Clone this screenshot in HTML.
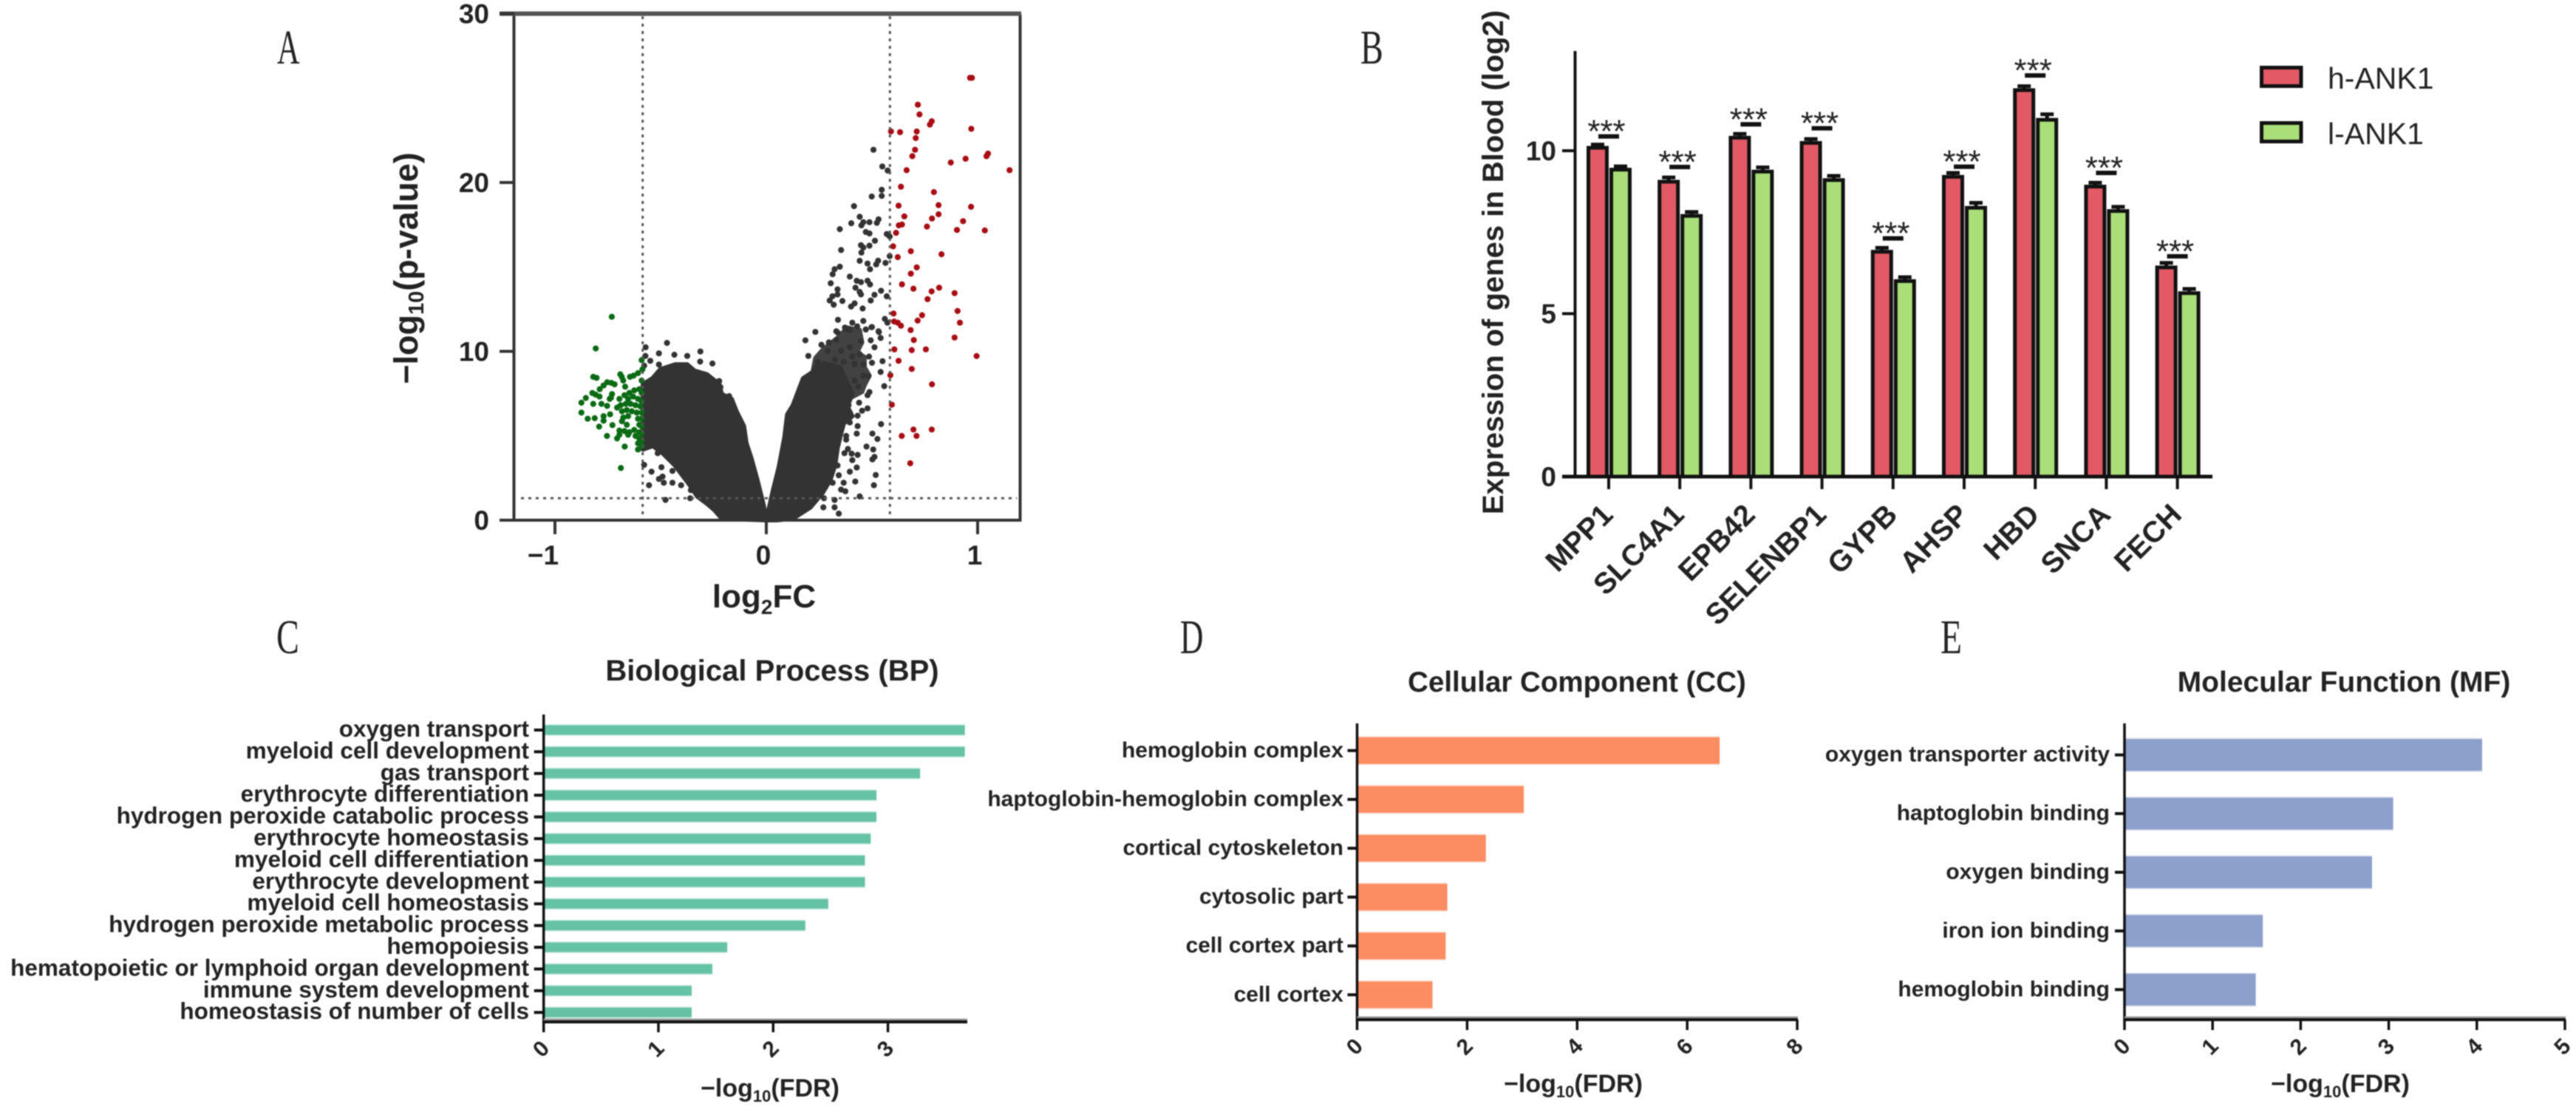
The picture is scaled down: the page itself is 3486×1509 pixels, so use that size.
<!DOCTYPE html>
<html>
<head>
<meta charset="utf-8">
<title>ANK1 expression figure</title>
<style>
html,body{margin:0;padding:0;background:#fff;overflow:hidden;}
svg{display:block;font-family:"Liberation Sans",sans-serif;filter:blur(.7px);}
</style>
</head>
<body>
<svg id="fig" xmlns="http://www.w3.org/2000/svg" width="3486" height="1509" viewBox="0 0 3486 1509">
  <rect x="0" y="0" width="3486" height="1509" fill="#fff"/>
  <g font-family="'Liberation Serif',serif" font-size="66" fill="#222">
    <text transform="translate(375,86) scale(.64,1)">A</text>
    <text transform="translate(1841,86) scale(.7,1)">B</text>
    <text transform="translate(374,884) scale(.7,1)">C</text>
    <text transform="translate(1597,884) scale(.66,1)">D</text>
    <text transform="translate(2626,884) scale(.72,1)">E</text>
  </g>
  <g id="volcano"></g>
  <text transform="translate(565,363) rotate(-90)" text-anchor="middle" font-size="45" font-weight="bold" fill="#222">−log<tspan font-size="29" dy="8">10</tspan><tspan dy="-8">(p-value)</tspan></text>
  <text x="1034" y="822" text-anchor="middle" font-size="44" font-weight="bold" fill="#222">log<tspan font-size="28" dy="9">2</tspan><tspan dy="-9">FC</tspan></text>
  <g id="barchart"></g>
  <text transform="translate(2034,355) rotate(-90)" text-anchor="middle" font-size="40" font-weight="bold" fill="#222">Expression of genes in Blood (log2)</text>
  <g>
    <rect x="3060.5" y="91.5" width="53.5" height="25" fill="#e15a66" stroke="#111" stroke-width="5"/>
    <text x="3150" y="120" font-size="41" fill="#222">h-ANK1</text>
    <rect x="3060.5" y="166.5" width="53.5" height="25" fill="#a9de78" stroke="#111" stroke-width="5"/>
    <text x="3150" y="195" font-size="41" fill="#222">l-ANK1</text>
  </g>
  <g id="panelC"></g>
  <g id="panelD"></g>
  <g id="panelE"></g>
</svg>
<script>
/* ---------- Panel A: volcano data (log2FC, -log10 p) ---------- */
var volcanoXTicks = [-1, 0, 1];
var volcanoYTicks = [0, 10, 20, 30];
var foldThresholds = [-0.585, 0.585];
var pThreshold = 1.3;
var redPoints = [[.964,26.2],[.973,26.2],[.717,24.61],[.725,24.03],[.783,23.63],[.774,23.43],[.59,23.03],[.633,22.98],[.712,23.02],[.97,23.18],[.707,22.63],[.704,21.94],[.691,21.56],[1.049,21.71],[1.042,21.56],[.943,21.41],[.873,21.18],[.664,20.73],[1.151,20.73],[.637,19.75],[.793,19.43],[.626,18.63],[.815,18.66],[.969,18.56],[.653,17.99],[.815,18.12],[.784,17.87],[.931,17.71],[.642,17.51],[.627,17.46],[.614,17.02],[.76,17.39],[.902,17.19],[1.034,17.16],[.6,16.22],[.684,15.93],[.829,15.75],[.622,15.58],[.712,14.97],[.684,14.6],[.642,13.97],[.696,13.71],[.782,13.55],[.818,13.77],[.891,13.45],[.763,13.09],[.905,12.39],[.602,12.24],[.737,12.14],[.716,11.82],[.916,11.7],[.605,11.77],[.622,11.7],[.637,11.52],[.683,11.26],[.891,10.82],[.698,10.67],[.606,10.12],[.688,10.07],[.755,10.12],[.995,9.72],[.626,9.44],[.688,8.96],[.587,8.59],[.784,8.05],[.594,6.84],[.696,5.37],[.783,5.37],[.641,4.99],[.711,4.99],[.681,3.37]];
var greenPoints = [[-.731,12.05],[-.807,10.17],[-.819,8.49],[-.803,8.43],[-.691,8.64],[-.684,8.49],[-.59,9.48],[-.645,8.49],[-.628,8.56],[-.607,8.71],[-.586,8.93],[-.59,8.27],[-.733,8.13],[-.753,8.17],[-.718,8.05],[-.77,7.98],[-.788,7.76],[-.677,8.27],[-.668,7.91],[-.823,7.53],[-.808,7.44],[-.854,7.24],[-.789,7.32],[-.73,7.47],[-.735,7.25],[-.875,6.96],[-.819,6.89],[-.78,6.89],[-.753,6.77],[-.741,7.18],[-.875,6.37],[-.845,6.01],[-.812,6.04],[-.77,6.16],[-.77,5.89],[-.739,6.27],[-.791,5.54],[-.728,5.63],[-.754,4.99],[-.706,4.84],[-.67,4.36],[-.607,4.19],[-.688,3.09],[-.695,7.18],[-.671,7.4],[-.648,7.54],[-.625,7.69],[-.601,7.76],[-.59,7.54],[-.654,7.18],[-.63,7.32],[-.607,7.18],[-.59,7.03],[-.689,6.81],[-.665,6.89],[-.642,6.89],[-.619,6.81],[-.596,6.74],[-.706,6.67],[-.683,6.45],[-.66,6.52],[-.636,6.45],[-.613,6.37],[-.59,6.37],[-.677,6.08],[-.654,6.16],[-.607,6.01],[-.59,6.01],[-.683,5.86],[-.66,5.65],[-.601,5.65],[-.59,5.57],[-.695,5.31],[-.671,5.28],[-.648,5.21],[-.625,5.35],[-.601,5.21],[-.59,5.14],[-.695,5.06],[-.654,5.06],[-.619,4.99],[-.601,4.84],[-.59,4.7],[-.607,4.55],[-.59,4.4]];
var grayPoints = [[.507,21.94],[.549,20.95],[.574,20.71],[.546,19.57],[.499,19.17],[.546,19.21],[.415,18.6],[.442,17.97],[.402,17.59],[.348,17.24],[.459,17.65],[.488,17.65],[.45,17.46],[.531,17.82],[.523,17.61],[.471,17.07],[.488,16.98],[.57,16.95],[.584,16.8],[.514,16.55],[.448,16.29],[.488,16.26],[.459,16.15],[.354,16],[.45,15.85],[.584,15.64],[.442,15.36],[.479,15.2],[.529,15.37],[.52,15.15],[.564,15.24],[.491,14.86],[.348,15.01],[.323,14.86],[.314,14.57],[.395,14.43],[.428,14.18],[.448,14.1],[.479,14.18],[.491,13.96],[.305,14.03],[.337,13.67],[.422,13.77],[.442,13.52],[.448,13.37],[.543,13.59],[.512,13.35],[.57,13.26],[.494,13.01],[.337,13.37],[.313,13.26],[.3,13.01],[.319,12.76],[.36,12.98],[.418,12.84],[.401,12.65],[.456,12.54],[.339,11.87],[.561,11.92],[.573,11.7],[.459,11.8],[.407,11.7],[.372,11.41],[.43,11.48],[.498,11.43],[.331,11.19],[.471,11.3],[.531,11.19],[.395,11.26],
[.232,11.15],[.185,10.65],[.261,10.39],[.199,9.73],[.337,11.12],[.378,11.33],[.471,11.29],[.5,11.44],[.533,11.14],[.541,10.79],[.448,10.6],[.494,10.65],[.512,10.24],[.296,10.53],[.331,10.68],[.29,10.02],[.354,10.02],[.395,10.24],[.442,9.83],[.486,9.69],[.407,9.69],[.5,9.32],[.55,9.42],[.418,9.25],[.459,9.22],[.366,9.37],[.325,9.51],[.244,9.37],[.261,9.07],[.541,8.78],[.459,8.56],[.483,8.52],[.558,7.94],[.418,8.27],[.436,7.91],[.488,7.59],[.479,7.4],[.439,6.96],[.479,6.62],[.453,6.48],[.389,6.81],[.395,6.37],[.432,6.19],[.395,5.79],[.432,5.57],[.543,5.69],[.378,4.99],[.378,4.77],[.428,5.13],[.502,5.13],[.526,4.81],[.474,4.36],[.506,4.19],[.386,4.22],[.37,3.97],[.404,3.94],[.432,3.87],[.407,3.56],[.512,3.75],[.502,3.6],[.428,3.12],[.395,2.87],[.518,2.68],[.421,2.29],[.509,2.07],[.366,2.22],[.354,1.81],[.374,1.71],[.442,1.41],[.323,1.2],[.273,1.3],[.27,.76],[.323,.76],[.343,.39],[.337,3.24],[.343,2.66],[.314,2.22],
[-.47,10.5],[-.571,10.24],[-.508,9.88],[-.435,9.8],[-.312,9.99],[-.374,9.73],[-.313,9.39],[-.255,9.28],[-.572,9.73],[-.549,9.44],[-.578,9.15],[-.508,9.22],[-.223,8.24],[-.217,7.88],[-.176,7.35],[-.234,7.47],[-.578,3.28],[-.543,2.87],[-.496,3.14],[-.491,2.58],[-.508,2.44],[-.485,2.22],[-.555,2.07],[-.444,2.92],[-.444,2.22],[-.403,2.07],[-.357,1.78],[-.477,1.2],[-.36,1.3],[-.514,3.97],[-.467,3.97]];
/* outlines of the saturated regions where individual points merge */
var leftLobeEnvelope = [[0,0],[-.211,.1],[-.246,.61],[-.281,.98],[-.327,1.41],[-.362,2.07],[-.432,3.24],[-.491,3.97],[-.537,4.4],[-.584,4.19],[-.584,8.05],[-.537,8.42],[-.502,8.93],[-.432,9.22],[-.374,9.22],[-.339,8.85],[-.281,8.64],[-.222,8.05],[-.211,7.47],[-.164,7.18],[-.141,6.45],[-.106,5.57],[-.094,4.55],[-.071,3.68],[-.042,2.36],[-.013,.9]];
var rightLobeEnvelope = [[0,0],[.032,1.79],[.059,3.13],[.086,4.91],[.099,6.25],[.126,6.81],[.15,7.6],[.174,8.4],[.22,8.78],[.232,9.07],[.27,9.3],[.349,9.07],[.407,7.47],[.384,6.74],[.407,6.16],[.366,5.72],[.354,5.14],[.337,4.26],[.325,3.24],[.302,2.36],[.267,1.63],[.209,.76],[.127,.1],[.05,0]];
var rightCloudEnvelope = [[.22,8.8],[.232,9.6],[.267,10.1],[.337,10.8],[.384,11.4],[.442,11.26],[.453,10.53],[.43,9.95],[.465,9.66],[.465,9.07],[.488,8.56],[.465,8],[.453,7.6],[.407,7.3],[.35,8]];

/* ---------- Panel B: expression bars ---------- */
var geneNames = ["MPP1","SLC4A1","EPB42","SELENBP1","GYPB","AHSP","HBD","SNCA","FECH"];
var highAnk1 = [10.09,9.05,10.4,10.24,6.9,9.2,11.86,8.9,6.42];
var lowAnk1 = [9.42,8.0,9.36,9.1,6.0,8.25,10.95,8.15,5.63];
var highErr = [0.1,0.13,0.12,0.12,0.12,0.12,0.12,0.12,0.14];
var lowErr = [0.1,0.12,0.13,0.13,0.12,0.15,0.17,0.13,0.13];
var sigLevels = [10.44,9.5,10.81,10.69,7.31,9.51,12.31,9.32,6.76];
var sigLabels = ["***","***","***","***","***","***","***","***","***"];
var exprTicks = [0,5,10];

/* ---------- Panels C, D, E: enrichment bars ---------- */
var bpTerms = ["oxygen transport","myeloid cell development","gas transport","erythrocyte differentiation","hydrogen peroxide catabolic process","erythrocyte homeostasis","myeloid cell differentiation","erythrocyte development","myeloid cell homeostasis","hydrogen peroxide metabolic process","hemopoiesis","hematopoietic or lymphoid organ development","immune system development","homeostasis of number of cells"];
var bpValues = [3.67,3.67,3.28,2.9,2.9,2.85,2.8,2.8,2.48,2.28,1.6,1.47,1.29,1.29];
var bpTicks = [0,1,2,3];
var ccTerms = ["hemoglobin complex","haptoglobin-hemoglobin complex","cortical cytoskeleton","cytosolic part","cell cortex part","cell cortex"];
var ccValues = [6.59,3.03,2.34,1.64,1.61,1.37];
var ccTicks = [0,2,4,6,8];
var mfTerms = ["oxygen transporter activity","haptoglobin binding","oxygen binding","iron ion binding","hemoglobin binding"];
var mfValues = [4.06,3.05,2.81,1.57,1.49];
var mfTicks = [0,1,2,3,4,5];

var NS = "http://www.w3.org/2000/svg";
function add(parent, tag, attrs, text) {
  var el = document.createElementNS(NS, tag);
  for (var k in attrs) el.setAttribute(k, attrs[k]);
  if (text !== undefined) el.textContent = text;
  parent.appendChild(el);
  return el;
}

/* ---------- draw volcano ---------- */
(function () {
  var g = document.getElementById("volcano");
  var ax = function (v) { return 1037 + v * 286; };
  var ay = function (v) { return 704 - v * 22.85; };
  var INK = "#333";

  function envelope(points, name, alpha) {
    var s = points.map(function (p) { return ax(p[0]).toFixed(1) + "," + ay(p[1]).toFixed(1); }).join(" ");
    var el = add(g, "polygon", { points: s, fill: INK, stroke: INK, "stroke-width": 6, "stroke-linejoin": "round", opacity: alpha });
    
    
  }
  envelope(rightCloudEnvelope, "right-cloud-density", 0.92);
  envelope(leftLobeEnvelope, "left-lobe-density", 1);
  envelope(rightLobeEnvelope, "right-lobe-density", 1);

  function dots(points, color, name) {
    var layer = add(g, "g", { fill: color });
    
    
    points.forEach(function (p) {
      var c = add(layer, "circle", { cx: ax(p[0]).toFixed(1), cy: ay(p[1]).toFixed(1), r: 4.1 });
      
      
    });
  }
  dots(grayPoints, INK, "not-significant");
  dots(greenPoints, "#0b6b14", "down-regulated");
  dots(redPoints, "#a80d14", "up-regulated");

  foldThresholds.forEach(function (t) {
    var l = add(g, "line", { x1: ax(t), x2: ax(t), y1: 22, y2: 702, stroke: "#555", "stroke-width": 3, "stroke-dasharray": "4 6" });
    
    
  });
  var h = add(g, "line", { x1: 705, x2: 1376, y1: ay(pThreshold), y2: ay(pThreshold), stroke: "#555", "stroke-width": 3, "stroke-dasharray": "4 6" });
  
  

  var frame = add(g, "path", { d: "M695.5 19.5V704H1380.5V19.5", fill: "none", stroke: "#333", "stroke-width": 4 });
  
  
  var top = add(g, "line", { x1: 676, x2: 1382, y1: ay(30), y2: ay(30), stroke: "#555", "stroke-width": 6 });
  
  

  volcanoYTicks.forEach(function (t) {
    var m = add(g, "line", { x1: 676, x2: 696, y1: ay(t), y2: ay(t), stroke: "#333", "stroke-width": 4 });
    
    
    var lab = add(g, "text", { x: 662, y: ay(t) + 13, "text-anchor": "end", "font-size": 37, "font-weight": "bold", fill: "#222" }, String(t));
    
    
  });
  volcanoXTicks.forEach(function (t) {
    var m = add(g, "line", { x1: ax(t), x2: ax(t), y1: 704, y2: 723, stroke: "#333", "stroke-width": 4 });
    
    
    var lab = add(g, "text", { x: ax(t) - (t < 0 ? 16 : 4), y: 764, "text-anchor": "middle", "font-size": 37, "font-weight": "bold", fill: "#222" }, String(t).replace("-", "−"));
    
    
  });
})();

/* ---------- draw expression bars ---------- */
(function () {
  var g = document.getElementById("barchart");
  var gx = function (i) { return 2177 + i * 96.2; };
  var vy = function (v) { return 645 - v * 44.1; };

  geneNames.forEach(function (name, i) {
    var tx = gx(i);
    [[highAnk1, highErr, "#e15a66", -27.5, "high"], [lowAnk1, lowErr, "#a9de78", 3.5, "low"]].forEach(function (s) {
      var v = s[0][i], top = vy(v), cx = tx + s[3] + 12.5;
      var err = add(g, "path", { d: "M" + (cx - 9) + " " + vy(v + s[1][i]) + "H" + (cx + 9) + "M" + cx + " " + vy(v + s[1][i]) + "V" + top, stroke: "#111", "stroke-width": 5, fill: "none" });
      
      
      var bar = add(g, "rect", { x: tx + s[3], y: top, width: 25, height: 645 - top, fill: s[2], stroke: "#111", "stroke-width": 5 });
      
      
    });
    var sy = vy(sigLevels[i]);
    var line = add(g, "line", { x1: tx - 14, x2: tx + 14, y1: sy, y2: sy, stroke: "#111", "stroke-width": 6 });
    
    
    var star = add(g, "text", { x: tx - 3, y: sy + 8, "text-anchor": "middle", "font-size": 44, fill: "#222" }, sigLabels[i]);
    
    
    var tick = add(g, "line", { x1: tx, x2: tx, y1: 645, y2: 662, stroke: "#111", "stroke-width": 4 });
    
    
    var lab = add(g, "text", { transform: "translate(" + (tx + 8) + ",699) rotate(-45)", "text-anchor": "end", "font-size": 40, "font-weight": "bold", fill: "#222" }, name);
    
    
  });

  var yAxis = add(g, "line", { x1: 2131.5, x2: 2131.5, y1: 69, y2: 647, stroke: "#111", "stroke-width": 4 });
  
  
  var xAxis = add(g, "line", { x1: 2114, x2: 2994, y1: 645, y2: 645, stroke: "#111", "stroke-width": 5 });
  
  
  exprTicks.forEach(function (t) {
    var m = add(g, "line", { x1: 2114, x2: 2131, y1: vy(t), y2: vy(t), stroke: "#111", "stroke-width": 4 });
    
    
    var lab = add(g, "text", { x: 2106, y: vy(t) + 13, "text-anchor": "end", "font-size": 37, "font-weight": "bold", fill: "#222" }, String(t));
    
    
  });
})();

/* ---------- draw enrichment panels ---------- */
function enrichment(id, cfg, terms, values, ticks) {
  var g = document.getElementById(id);
  var vx = function (v) { return cfg.x0 + v * cfg.unit; };
  var cy = function (i) { return cfg.firstY + i * cfg.stepY; };

  terms.forEach(function (term, i) {
    var halo = add(g, "rect", { x: cfg.x0, y: cy(i) - cfg.barH / 2 - 1.5, width: vx(values[i]) - cfg.x0, height: cfg.barH + 3, fill: cfg.color, opacity: 0.3 });
    
    
    var bar = add(g, "rect", { x: cfg.x0, y: cy(i) - cfg.barH / 2, width: vx(values[i]) - cfg.x0, height: cfg.barH, fill: cfg.color });
    
    
    var tick = add(g, "line", { x1: cfg.x0 - 13, x2: cfg.x0, y1: cy(i), y2: cy(i), stroke: "#111", "stroke-width": 4 });
    
    
    var lab = add(g, "text", { x: cfg.labelX, y: cy(i) + 9, "text-anchor": "end", "font-size": cfg.labelSize, "font-weight": "bold", fill: "#222" }, term);
    
    
  });

  var yAxis = add(g, "line", { x1: cfg.x0, x2: cfg.x0, y1: cfg.axisTop, y2: cfg.axisY + 2, stroke: "#111", "stroke-width": 3.5 });
  
  
  var shade = add(g, "line", { x1: cfg.x0, x2: cfg.axisEnd, y1: cfg.axisY - 3, y2: cfg.axisY - 3, stroke: "#999", "stroke-width": 3 });
  
  
  var xAxis = add(g, "line", { x1: cfg.x0, x2: cfg.axisEnd, y1: cfg.axisY, y2: cfg.axisY, stroke: "#111", "stroke-width": 4 });
  
  

  ticks.forEach(function (t) {
    var m = add(g, "line", { x1: vx(t), x2: vx(t), y1: cfg.axisY, y2: cfg.axisY + 14, stroke: "#111", "stroke-width": 3.5 });
    
    
    var lab = add(g, "text", { transform: "translate(" + (vx(t) - 2) + "," + (cfg.axisY + 38) + ") rotate(-45)", "text-anchor": "middle", "dominant-baseline": "middle", "font-size": 30, "font-weight": "bold", fill: "#222" }, String(t));
    
    
  });

  var title = add(g, "text", { x: cfg.titleX, y: cfg.titleY, "text-anchor": "middle", "font-size": cfg.titleSize, "font-weight": "bold", fill: "#222" }, cfg.title);
  
  

  var xt = add(g, "text", { x: cfg.xTitleX, y: cfg.xTitleY, "text-anchor": "middle", "font-size": 34, "font-weight": "bold", fill: "#222" }, "−log");
  
  
  add(xt, "tspan", { "font-size": 22, dy: 7 }, "10");
  add(xt, "tspan", { dy: -7 }, "(FDR)");
}

enrichment("panelC", { x0: 735.7, unit: 155.3, firstY: 988, stepY: 29.4, barH: 13, axisTop: 967, axisY: 1383, axisEnd: 1309, color: "#66c2a5", labelX: 716, labelSize: 31.5, title: "Biological Process (BP)", titleSize: 40, titleX: 1045, titleY: 921, xTitleX: 1042, xTitleY: 1484 }, bpTerms, bpValues, bpTicks);
enrichment("panelD", { x0: 1836.5, unit: 74.45, firstY: 1015.8, stepY: 66.1, barH: 36, axisTop: 979, axisY: 1380, axisEnd: 2433, color: "#fc8d62", labelX: 1818, labelSize: 30, title: "Cellular Component (CC)", titleSize: 38.5, titleX: 2134, titleY: 936, xTitleX: 2129, xTitleY: 1478 }, ccTerms, ccValues, ccTicks);
enrichment("panelE", { x0: 2875, unit: 119.2, firstY: 1021.7, stepY: 79.4, barH: 43, axisTop: 979, axisY: 1380, axisEnd: 3472, color: "#8da0cb", labelX: 2855, labelSize: 30, title: "Molecular Function (MF)", titleSize: 39, titleX: 3172, titleY: 936, xTitleX: 3167, xTitleY: 1478 }, mfTerms, mfValues, mfTicks);
</script>
</body>
</html>
